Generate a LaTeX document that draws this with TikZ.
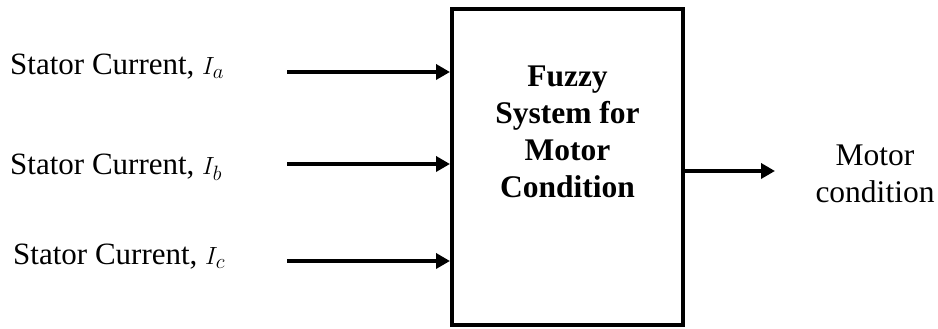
\documentclass[tikz,border=0pt]{standalone}
\usepackage{fontspec}
\setmainfont{Liberation Serif}
\usetikzlibrary{arrows.meta}
\begin{document}
\begin{tikzpicture}[x=1pt,y=1pt,
  lbl/.style={inner sep=0pt, font=\fontsize{31}{37}\selectfont},
  boxtxt/.style={inner sep=0pt, align=center, font=\fontsize{31.5}{37}\selectfont\bfseries},
  outtxt/.style={inner sep=0pt, align=center, font=\fontsize{31.5}{37}\selectfont},
  blk/.style={draw, line width=4pt, minimum width=231pt, minimum height=316pt, inner sep=0pt},
  conn/.style={line width=4pt, -{Triangle[length=14pt,width=15pt]}}]
\useasboundingbox (0,0) rectangle (938,329);
\node[blk] (fz) at (567.5,162) {};
\node[boxtxt, anchor=base] (fzt) at (567.5,131) {Fuzzy\\System for\\Motor\\Condition};
\node[lbl, anchor=base west] (la) at (10,254) {Stator Current, $I_a$};
\node[lbl, anchor=base west] (lb) at (10,154) {Stator Current, $I_b$};
\node[lbl, anchor=base west] (lc) at (13,64) {Stator Current, $I_c$};
\coordinate (sa) at (287,257);
\coordinate (sb) at (287,165);
\coordinate (sc) at (287,68);
\draw[conn] (sa) -- (sa -| fz.west);
\draw[conn] (sb) -- (sb -| fz.west);
\draw[conn] (sc) -- (sc -| fz.west);
\coordinate (oe) at (775,158);
\draw[conn] (oe -| fz.east) -- (oe);
\node[outtxt, anchor=base] (mc) at (875,126) {Motor\\condition};
\end{tikzpicture}
\end{document}
